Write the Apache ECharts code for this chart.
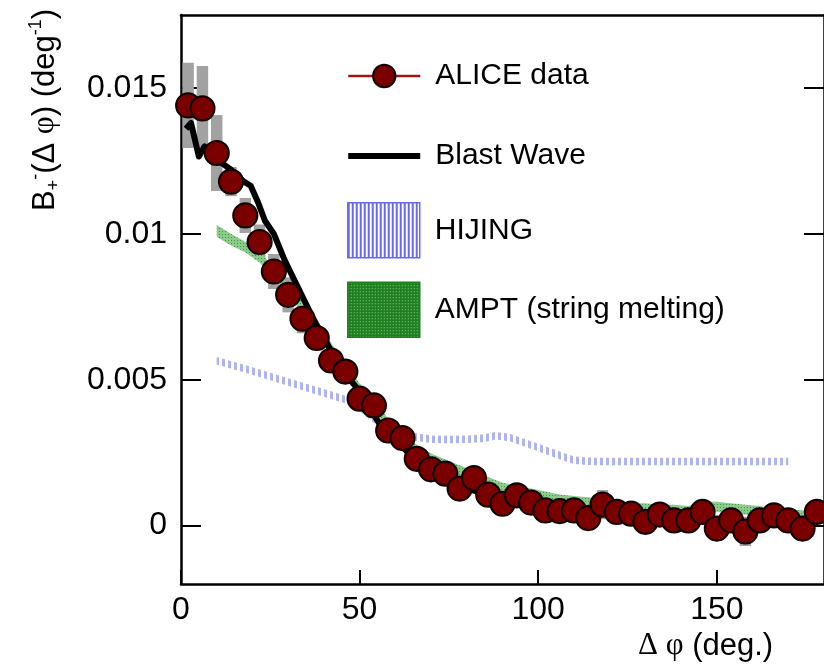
<!DOCTYPE html>
<html><head><meta charset="utf-8">
<script src="https://cdn.jsdelivr.net/npm/echarts@6/dist/echarts.min.js"></script>
<style>html,body{margin:0;padding:0;background:#fff}#c{width:824px;height:667px}</style>
</head><body><div id="c"></div>
<script>
// ---------------- data ----------------
const aliceX = [2,6,10,14,18,22,26,30,34,38,42,46,50,54,58,62,66,70,74,78,82,86,90,94,98,102,106,110,114,118,122,126,130,134,138,142,146,150,154,158,162,166,170,174,178];
const aliceY = [0.01440,0.01430,0.01277,0.01179,0.01063,0.00972,0.00871,0.00791,0.00709,0.00643,0.00566,0.00528,0.00435,0.00412,0.00326,0.00300,0.00229,0.00193,0.00178,0.00127,0.00163,0.00106,0.00075,0.00104,0.00079,0.00052,0.00050,0.00052,0.00026,0.00072,0.00047,0.00041,0.00013,0.00038,0.00018,0.00018,0.00047,-0.00010,0.00018,-0.00020,0.00018,0.00035,0.00018,-0.00010,0.00047];
const aliceSys = [0.00146,0.00145,0.0013,0.0005,0.0006,0.0006,0.0006,0.0006,0.0005,0.0004,0.0003,0.0003,0.0003,0.0003,0.0003,0.0003,0.0003,0.0003,0.0003,0.0003,0.0003,0.0003,0.0003,0.0003,0.0003,0.0003,0.0003,0.0003,0.0003,0.0005,0.0003,0.0003,0.0003,0.0003,0.0003,0.0003,0.0003,0.0004,0.0003,0.0005,0.0003,0.0003,0.0003,0.0003,0.0004];

const blastX = [1.4,2.8,5.0,6.6,10,14,17.5,19.5,21.5,23.5,26,29,33,37,41.5,46,50,53,57,62,66,70,76,82,90,98];
const blastY = [0.0136,0.0138,0.01265,0.0130,0.01255,0.0122,0.0118,0.01165,0.0111,0.01045,0.0100,0.0091,0.0081,0.0071,0.0061,0.0052,0.0046,0.0040,0.0032,0.0027,0.0022,0.0019,0.0015,0.0012,0.0009,0.0007];

const hijingX = [10,20,30,40,47,50,55,60,65,70,75,80,85,88,92,96,100,105,110,115,120,130,140,150,160,170];
const hijingY = [0.00565,0.00530,0.00492,0.00455,0.00428,0.00405,0.00355,0.00322,0.00305,0.00296,0.00295,0.00296,0.00300,0.00308,0.00302,0.00285,0.00268,0.00245,0.00224,0.00220,0.00220,0.00220,0.00220,0.00220,0.00220,0.00220];
const hijingHalf = [0.00013,0.00013,0.00013,0.00013,0.00013,0.00013,0.00013,0.00013,0.00013,0.00013,0.00013,0.00013,0.00013,0.00013,0.00013,0.00013,0.00013,0.00013,0.00013,0.00013,0.00013,0.00013,0.00013,0.00013,0.00013,0.00013];

const amptX = [10,14,18,22,26,30,34,38,42,46,50,54,58,62,66,70,74,78,82,86,90,94,98,102,106,110,114,118,122,126,130,134,138,142,146,150,154,158,162,166,170,174,178];
const amptY = [0.0101,0.0098,0.00955,0.0092,0.0087,0.0081,0.0075,0.0068,0.0061,0.0054,0.0047,0.0041,0.0035,0.0030,0.0026,0.0023,0.0021,0.0019,0.0017,0.0015,0.0013,0.0012,0.0011,0.0010,0.0009,0.00085,0.0008,0.0007,0.00065,0.0006,0.0006,0.00055,0.00055,0.0005,0.00065,0.00065,0.0006,0.00055,0.0005,0.0004,0.0004,0.00035,0.0003];
const amptHalf = [0.0002,0.0002,0.00018,0.00018,0.00017,0.00017,0.00017,0.00017,0.00017,0.00017,0.00017,0.00017,0.00017,0.00017,0.00017,0.00017,0.00017,0.00017,0.00017,0.00017,0.00017,0.00017,0.00017,0.00017,0.00017,0.00017,0.00017,0.00017,0.00017,0.00017,0.00017,0.00017,0.00017,0.00017,0.00017,0.00017,0.00017,0.00017,0.00017,0.00017,0.00017,0.00017,0.00017];

const xTicks = [0,50,100,150];
const xTickLabels = ['0','50','100','150'];
const yTicks = [0,0.005,0.01,0.015];
const yTickLabels = ['0','0.005','0.01','0.015'];

// ---------------- styling helpers ----------------
function stripes(period, lineW, color, bg) {
  const c = document.createElement('canvas'); c.width = period; c.height = 4;
  const g = c.getContext('2d');
  if (bg) { g.fillStyle = bg; g.fillRect(0,0,period,4); }
  g.fillStyle = color; g.fillRect(0,0,lineW,4);
  return {image: c, repeat: 'repeat'};
}
function dots(size, base, dot) {
  const c = document.createElement('canvas'); c.width = size; c.height = size;
  const g = c.getContext('2d');
  g.fillStyle = base; g.fillRect(0,0,size,size);
  g.fillStyle = dot; g.fillRect(0,0,1,1);
  return {image: c, repeat: 'repeat'};
}
const FONT = 'Liberation Sans, Arial, Helvetica, sans-serif';
const SERIF = 'Liberation Serif, DejaVu Serif, serif';
const hijPlot = stripes(6, 3, '#aeb3f3', null);
const hijLegend = stripes(4, 2, '#6a6af0', '#ffffff');
const amptPlot = dots(3, '#8ccb8c', '#3d9a3d');
const amptLegend = dots(3, '#207f20', '#8fcf8f');
const boxHalf = 1.6;

function bandSeries(name, xs, ys, hs, fill, z) {
  const rows = xs.map((x, i) => [x, ys[i] - hs[i], ys[i] + hs[i]]);
  return {
    name: name, type: 'custom', z: z, silent: true, clip: true,
    data: rows, encode: {x: 0, y: [1, 2]},
    renderItem: (params, api) => {
      if (params.dataIndex !== 0) return null;
      const upper = rows.map(r => api.coord([r[0], r[2]]));
      const lower = rows.slice().reverse().map(r => api.coord([r[0], r[1]]));
      return {type: 'polygon', shape: {points: upper.concat(lower)}, style: {fill: fill}};
    }
  };
}

const chart = echarts.init(document.getElementById('c'), null, {renderer: 'canvas'});

const axisLineStyle = {color: '#000', width: 2.5};
const option = {
  animation: false,
  backgroundColor: '#fff',
  grid: {left: 181, right: -6, top: 15, bottom: 83, containLabel: false},
  xAxis: [{
    type: 'value', min: 0, max: 180, position: 'bottom',
    axisLine: {onZero: false, lineStyle: axisLineStyle},
    axisTick: {inside: true, length: 14, lineStyle: {color: '#000', width: 2}, customValues: xTicks},
    axisLabel: {customValues: xTicks, color: '#000', fontSize: 32, fontFamily: FONT, margin: 10,
      formatter: v => { const i = xTicks.indexOf(v); return i >= 0 ? xTickLabels[i] : ''; }},
    splitLine: {show: false}
  }, {
    type: 'value', min: 0, max: 180, position: 'top',
    axisLine: {onZero: false, lineStyle: axisLineStyle},
    axisTick: {show: false}, axisLabel: {show: false}, splitLine: {show: false}
  }],
  yAxis: [{
    type: 'value', min: -0.002, max: 0.0175, position: 'left',
    axisLine: {show: true, onZero: false, lineStyle: axisLineStyle},
    axisTick: {show: true, inside: true, length: 20, lineStyle: {color: '#000', width: 2}, customValues: yTicks},
    axisLabel: {customValues: yTicks, color: '#000', fontSize: 32, fontFamily: FONT, margin: 14,
      formatter: v => { const i = yTicks.findIndex(t => Math.abs(t - v) < 1e-9); return i >= 0 ? yTickLabels[i] : ''; }},
    splitLine: {show: false}
  }, {
    type: 'value', min: -0.002, max: 0.0175, position: 'right',
    axisLine: {show: true, onZero: false, lineStyle: axisLineStyle},
    axisTick: {show: true, inside: true, length: 20, lineStyle: {color: '#000', width: 2}, customValues: yTicks},
    axisLabel: {show: false}, splitLine: {show: false}
  }],
  legend: [{
    orient: 'vertical', left: 347, top: 61, padding: 0, itemWidth: 72, itemHeight: 28, itemGap: 50,
    selectedMode: false,
    textStyle: {fontSize: 30, color: '#000', fontFamily: FONT, padding: [0,0,0,10]},
    data: [
      {name: 'ALICE data', lineStyle: {color: '#9a1515', width: 2.5, opacity: 1}},
      {name: 'Blast Wave', icon: 'path://M0,0L72,0L72,6L0,6Z', itemStyle: {color: '#000'}}
    ]
  }, {
    orient: 'vertical', left: 347, top: 202, padding: 0, itemWidth: 72, itemHeight: 55, itemGap: 23,
    selectedMode: false,
    textStyle: {fontSize: 30, color: '#000', fontFamily: FONT, padding: [0,0,0,10]},
    data: [
      {name: 'HIJING', icon: 'rect', itemStyle: {color: hijLegend, borderColor: '#6a6af0', borderWidth: 1.5}},
      {name: 'AMPT (string melting)', icon: 'rect', itemStyle: {color: amptLegend, borderColor: '#207f20', borderWidth: 1.5}}
    ]
  }],
  graphic: [{
    type: 'text', x: 45, y: 110, rotation: Math.PI / 2, z: 10,
    style: {
      text: 'B{sub|+}{sup|-}(Δ {g|φ}) (deg{sup|-1})',
      fill: '#000', fontSize: 31, fontFamily: FONT, lineHeight: 36,
      align: 'center', verticalAlign: 'middle',
      rich: {
        sub: {fontSize: 18, lineHeight: 18, verticalAlign: 'bottom', fontFamily: FONT, fill: '#000'},
        sup: {fontSize: 18, lineHeight: 18, verticalAlign: 'top', fontFamily: FONT, fill: '#000'},
        g: {fontSize: 31, fontFamily: SERIF, fill: '#000'}
      }
    }
  }, {
    type: 'text', x: 638, y: 646, z: 10,
    style: {
      text: '{g|Δ φ} (deg.)',
      fill: '#000', fontSize: 31, fontFamily: FONT,
      align: 'left', verticalAlign: 'middle',
      rich: {g: {fontSize: 31, fontFamily: SERIF, fill: '#000'}}
    }
  }],
  series: [
    {
      name: 'sys', type: 'custom', z: 1, silent: true,
      data: aliceX.map((x, i) => [x, aliceY[i], aliceSys[i]]),
      encode: {x: 0, y: 1},
      renderItem: (params, api) => {
        const x = api.value(0), y = api.value(1), e = api.value(2);
        const p1 = api.coord([x - boxHalf, y + e]);
        const p2 = api.coord([x + boxHalf, y - e]);
        return {type: 'rect', shape: {x: p1[0], y: p1[1], width: p2[0] - p1[0], height: p2[1] - p1[1]},
          style: {fill: '#a2a2a2'}};
      }
    },
    bandSeries('HIJING', hijingX, hijingY, hijingHalf, hijPlot, 2),
    bandSeries('AMPT (string melting)', amptX, amptY, amptHalf, amptPlot, 2),
    {
      name: 'Blast Wave', type: 'line', z: 3, silent: true, symbol: 'none',
      lineStyle: {color: '#000', width: 6, join: 'round'}, itemStyle: {color: '#000'},
      data: blastX.map((x, i) => [x, blastY[i]])
    },
    {
      name: 'ALICE data', type: 'line', z: 4, silent: true,
      symbol: 'circle', symbolSize: 24, showSymbol: true,
      lineStyle: {opacity: 0, width: 0, color: '#9a1515'},
      itemStyle: {color: '#7a0000', borderColor: '#150000', borderWidth: 2.2},
      data: aliceX.map((x, i) => [x, aliceY[i]])
    }
  ]
};
chart.setOption(option);
</script>
</body></html>
